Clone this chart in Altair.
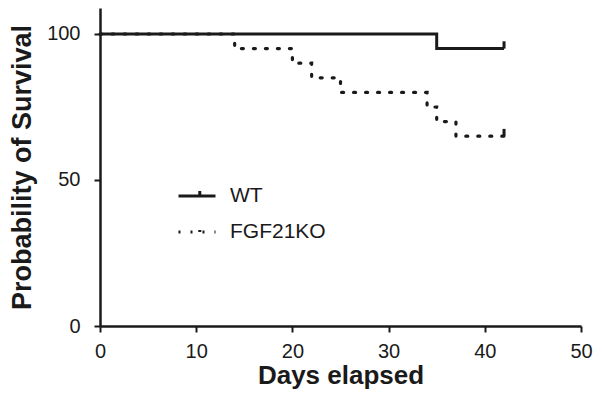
import altair as alt
import pandas as pd

groups = ["WT", "FGF21KO"]
wt_days = [0, 35, 42]
wt_surv = [100, 95, 95]
ko_days = [0, 14, 20, 22, 25, 34, 35, 37, 42]
ko_surv = [100, 95, 90, 85, 80, 75, 70, 65, 65]
censor_days = [42, 42]
censor_surv = [95, 65]
censor_top = [97.5, 67.5]
x_ticks = [0, 10, 20, 30, 40, 50]
y_ticks = [0, 50, 100]

wt = pd.DataFrame({"day": wt_days, "surv": wt_surv, "group": "WT"})
ko = pd.DataFrame({"day": ko_days, "surv": ko_surv, "group": "FGF21KO"})
cen = pd.DataFrame({"day": censor_days, "surv": censor_surv, "top": censor_top, "group": groups})

FONT = "Liberation Sans"
INK = "#1a1a1a"

x_enc = alt.X("day:Q", scale=alt.Scale(domain=[0, 50], nice=False),
              axis=alt.Axis(values=x_ticks, title="Days elapsed", labelPadding=9, titlePadding=1,
                            titleFontSize=26))
y_enc = alt.Y("surv:Q", scale=alt.Scale(domain=[0, 108.9], nice=False),
              axis=alt.Axis(values=y_ticks, title="Probability of Survival", labelPadding=14, titlePadding=10,
                            titleFontSize=27))

dash = alt.StrokeDash("group:N",
                      scale=alt.Scale(domain=groups, range=[[1, 0], [2, 10]]),
                      legend=alt.Legend(orient="none", legendX=77, legendY=168, title=None,
                                        symbolType="M-1,0H1M0.15,0V-0.27", symbolSize=1369,
                                        symbolStrokeWidth=3, symbolStrokeColor=INK,
                                        symbolFillColor="transparent",
                                        labelFont=FONT, labelFontSize=21, labelColor=INK,
                                        labelOffset=13, rowPadding=6, padding=0))

ko_line = alt.Chart(ko).mark_line(interpolate="step-after", color=INK, strokeWidth=3.2,
                                  strokeCap="round").encode(x=x_enc, y=y_enc, strokeDash=dash)
wt_line = alt.Chart(wt).mark_line(interpolate="step-after", color=INK, strokeWidth=3,
                                  strokeCap="butt").encode(x=x_enc, y=y_enc, strokeDash=dash)
ticks = alt.Chart(cen).mark_rule(color=INK, strokeWidth=3).encode(
    x="day:Q", y="surv:Q", y2="top:Q")

chart = alt.layer(ko_line, wt_line, ticks).properties(
    width=481, height=318,
    padding={"left": 92, "top": 0, "right": 13, "bottom": 63},
    autosize=alt.AutoSizeParams(type="none"),
).configure_view(stroke=None).configure_axis(
    grid=False, domainColor=INK, domainWidth=2.5, tickColor=INK, tickWidth=2, tickSize=6,
    labelFont=FONT, labelFontSize=20, labelColor=INK, labelFontWeight="normal",
    titleFont=FONT, titleFontWeight="bold", titleColor=INK,
).configure_axisX(labelFlush=False)

chart.save("out.html", embed_options={"renderer": "svg", "actions": False})
